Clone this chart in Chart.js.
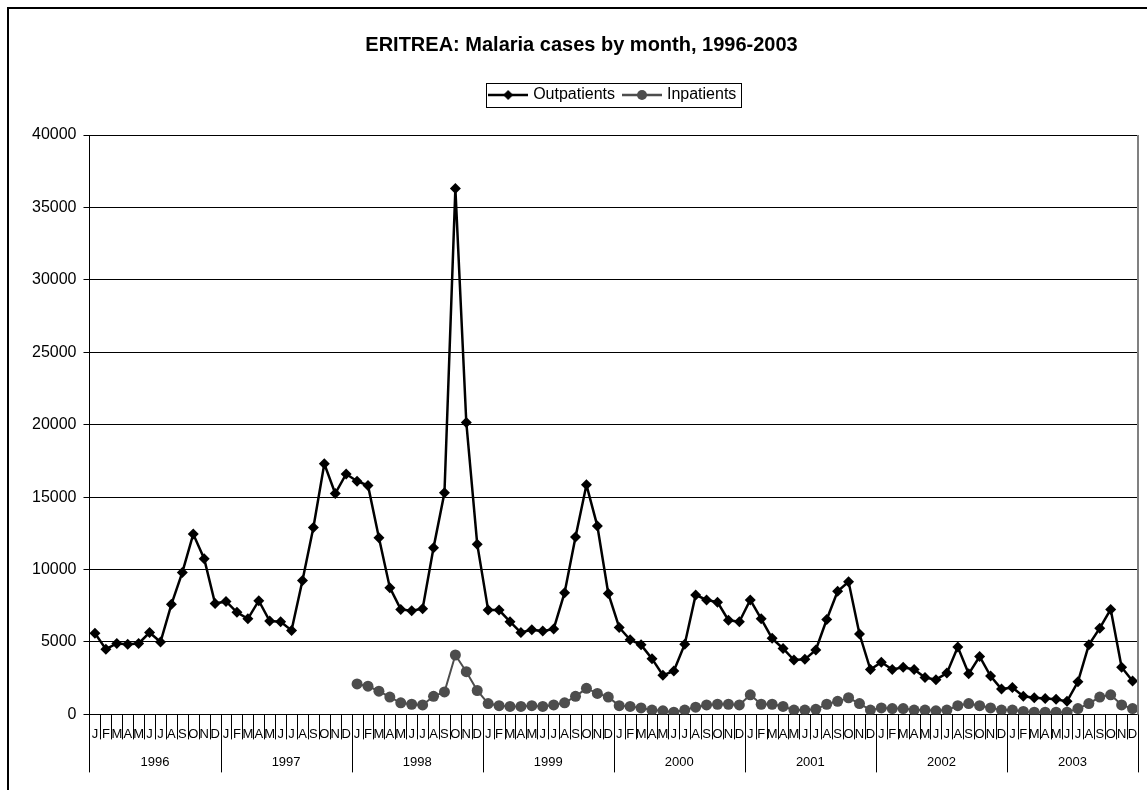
<!DOCTYPE html>
<html>
<head>
<meta charset="utf-8">
<script src="https://cdn.jsdelivr.net/npm/chart.js"></script>
<style>
  html, body { margin: 0; padding: 0; background: #fff; overflow: hidden; }
  #wrap { position: absolute; left: 0; top: 0; width: 1147px; height: 790px; }
</style>
</head>
<body>
<div id="wrap"><canvas id="chart"></canvas></div>
<script>
// month letters and years for the two-level x axis
const months = ['J', 'F', 'M', 'A', 'M', 'J', 'J', 'A', 'S', 'O', 'N', 'D'];
const years = ['1996', '1997', '1998', '1999', '2000', '2001', '2002', '2003'];

// Outpatients, Jan 1996 - Dec 2003
const outpatients = [
  5600, 4500, 4900, 4850, 4900, 5650, 5000, 7600, 9800, 12450, 10750, 7650,
  7800, 7050, 6600, 7850, 6450, 6400, 5800, 9250, 12900, 17300, 15250, 16600,
  16100, 15800, 12200, 8750, 7250, 7150, 7300, 11500, 15300, 36300, 20150, 11750,
  7200, 7200, 6400, 5650, 5850, 5750, 5900, 8400, 12250, 15850, 13000, 8350,
  6000, 5150, 4800, 3850, 2700, 3000, 4850, 8250, 7900, 7750, 6500, 6400,
  7900, 6600, 5250, 4550, 3750, 3800, 4450, 6550, 8500, 9150, 5550, 3100,
  3600, 3100, 3250, 3100, 2550, 2400, 2850, 4650, 2800, 4000, 2650, 1750,
  1850, 1250, 1150, 1100, 1050, 900, 2250, 4800, 5950, 7250, 3250, 2300
];

// Inpatients, reported from Jan 1998
const inpatients = [
  null, null, null, null, null, null, null, null, null, null, null, null,
  null, null, null, null, null, null, null, null, null, null, null, null,
  2100, 1950, 1600, 1200, 800, 700, 650, 1250, 1550, 4100, 2950, 1650,
  750, 600, 550, 550, 600, 550, 650, 800, 1250, 1800, 1450, 1200,
  600, 550, 450, 300, 250, 150, 300, 500, 650, 700, 700, 650,
  1350, 700, 700, 550, 300, 300, 350, 700, 900, 1150, 750, 300,
  450, 400, 400, 300, 300, 250, 300, 600, 750, 600, 450, 300,
  300, 200, 150, 150, 150, 150, 400, 750, 1200, 1350, 650, 400
];

const labels = [];
years.forEach(() => months.forEach(m => labels.push(m)));

const inColor = '#4d4d4d';
const fontFamily = 'Arial, "Liberation Sans", sans-serif';

// little line+marker pictures for the legend
function legendIcon(color, kind, lw) {
  const c = document.createElement('canvas');
  c.width = 40; c.height = 14;
  const g = c.getContext('2d');
  g.strokeStyle = color; g.fillStyle = color; g.lineWidth = lw;
  g.beginPath(); g.moveTo(0, 7); g.lineTo(40, 7); g.stroke();
  g.beginPath();
  if (kind === 'diamond') {
    g.moveTo(20, 2); g.lineTo(25, 7); g.lineTo(20, 12); g.lineTo(15, 7); g.closePath();
  } else {
    g.arc(20, 7, 5, 0, Math.PI * 2);
  }
  g.fill();
  return c;
}
const icons = [legendIcon('#000', 'diamond', 2.5), legendIcon(inColor, 'circle', 2.5)];

const decorations = {
  id: 'decorations',
  beforeInit(chart) {
    const fit = chart.legend.fit;
    chart.legend.fit = function () { fit.bind(chart.legend)(); this.height += 22; };
  },
  afterDraw(chart) {
    const ctx = chart.ctx;
    const x = chart.scales.x;
    const area = chart.chartArea;
    const step = x.getPixelForValue(1) - x.getPixelForValue(0);
    ctx.save();
    ctx.strokeStyle = '#000';
    ctx.lineWidth = 1;
    for (let i = 0; i <= labels.length; i++) {
      const px = Math.round(x.getPixelForValue(i) - step / 2) + 0.5;
      const len = i % 12 === 0 ? 58 : 25;
      ctx.beginPath(); ctx.moveTo(px, area.bottom); ctx.lineTo(px, area.bottom + len); ctx.stroke();
    }
    ctx.fillStyle = '#000';
    ctx.font = '13px ' + fontFamily;
    ctx.textAlign = 'center';
    ctx.textBaseline = 'middle';
    years.forEach((y, k) => {
      const cx = (x.getPixelForValue(k * 12) + x.getPixelForValue(k * 12 + 11)) / 2;
      ctx.fillText(y, cx, area.bottom + 48);
    });
    // plot area right edge
    ctx.strokeStyle = '#808080';
    ctx.lineWidth = 2;
    ctx.beginPath(); ctx.moveTo(area.right, area.top); ctx.lineTo(area.right, area.bottom); ctx.stroke();
    // legend frame
    const hb = chart.legend.legendHitBoxes;
    if (hb.length) {
      const l = Math.min(...hb.map(b => b.left)) - 5;
      const r = Math.max(...hb.map(b => b.left + b.width)) + 5;
      const t = Math.min(...hb.map(b => b.top)) - 4;
      const btm = Math.max(...hb.map(b => b.top + b.height)) + 4;
      ctx.strokeStyle = '#000';
      ctx.lineWidth = 1;
      ctx.strokeRect(Math.round(l) + 0.5, Math.round(t) + 0.5, Math.round(r - l), Math.round(btm - t));
    }
    // chart frame
    ctx.lineWidth = 2;
    ctx.beginPath(); ctx.moveTo(8, chart.height); ctx.lineTo(8, 8); ctx.lineTo(chart.width, 8); ctx.stroke();
    ctx.restore();
  }
};

new Chart(document.getElementById('chart'), {
  type: 'line',
  data: {
    labels,
    datasets: [
      {
        label: 'Outpatients',
        data: outpatients,
        borderColor: '#000',
        backgroundColor: '#000',
        borderWidth: 2.5,
        pointStyle: 'rectRot',
        pointRadius: 5.5,
        pointBorderWidth: 0,
        tension: 0
      },
      {
        label: 'Inpatients',
        data: inpatients,
        borderColor: inColor,
        backgroundColor: inColor,
        borderWidth: 2,
        pointStyle: 'circle',
        pointRadius: 5.5,
        pointBorderWidth: 0,
        tension: 0,
        spanGaps: false
      }
    ]
  },
  options: {
    responsive: true,
    maintainAspectRatio: false,
    animation: false,
    layout: { padding: { left: 25, right: 9, top: 0, bottom: 44 } },
    plugins: {
      title: {
        display: true,
        text: 'ERITREA: Malaria cases by month, 1996-2003',
        color: '#000',
        font: { family: fontFamily, size: 20, weight: 'bold' },
        padding: { top: 33, bottom: 20 }
      },
      legend: {
        display: true,
        fullSize: false,
        labels: {
          color: '#000',
          font: { family: fontFamily, size: 16 },
          usePointStyle: true,
          pointStyleWidth: 34,
          padding: 10,
          generateLabels(chart) {
            return chart.data.datasets.map((ds, i) => ({
              text: ds.label,
              pointStyle: icons[i],
              fillStyle: ds.borderColor,
              strokeStyle: ds.borderColor,
              lineWidth: 0,
              datasetIndex: i,
              hidden: false,
              fontColor: '#000'
            }));
          }
        }
      },
      tooltip: { enabled: false }
    },
    scales: {
      x: {
        type: 'category',
        offset: true,
        grid: { display: false },
        border: { display: true, color: '#000', width: 1 },
        ticks: {
          autoSkip: false,
          maxRotation: 0,
          minRotation: 0,
          padding: 4,
          color: '#000',
          font: { family: fontFamily, size: 13 }
        }
      },
      y: {
        min: 0,
        max: 40000,
        ticks: {
          stepSize: 5000,
          padding: 7,
          color: '#000',
          font: { family: fontFamily, size: 16 },
          callback: v => String(v)
        },
        grid: { color: '#000', lineWidth: 1, tickLength: 6 },
        border: { display: true, color: '#000', width: 1 }
      }
    }
  },
  plugins: [decorations]
});
</script>
</body>
</html>
